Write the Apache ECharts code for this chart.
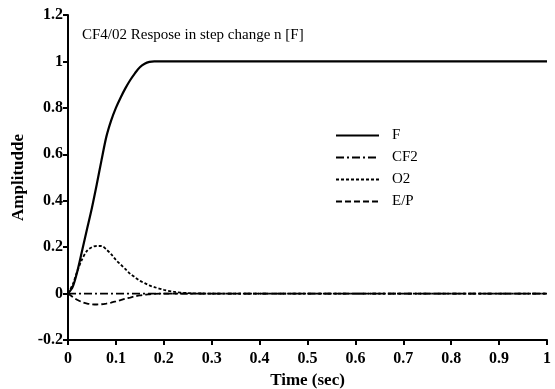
<!DOCTYPE html>
<html><head><meta charset="utf-8">
<script src="https://cdn.jsdelivr.net/npm/echarts@6/dist/echarts.min.js"></script>
<style>html,body{margin:0;padding:0;background:#fff}#c{width:555px;height:389px}</style>
</head><body><div id="c"></div>
<script>
var time = [0,0.01,0.02,0.03,0.04,0.05,0.06,0.07,0.08,0.09,0.10,0.11,0.12,0.13,0.14,0.15,0.16,0.17,0.18,0.20,0.22,0.25,0.30,0.50,1.0];
var F    = [0,0.03,0.10,0.19,0.28,0.37,0.47,0.575,0.675,0.745,0.80,0.845,0.885,0.92,0.95,0.975,0.99,0.998,1.0,1.0,1.0,1.0,1.0,1.0,1.0];
var CF2  = [0,0,0,0,0,0,0,0,0,0,0,0,0,0,0,0,0,0,0,0,0,0,0,0,0];
var O2   = [0,0.04,0.10,0.15,0.185,0.20,0.205,0.205,0.19,0.17,0.145,0.125,0.105,0.085,0.07,0.055,0.045,0.035,0.028,0.016,0.008,0.002,0,0,0];
var EP   = [0,-0.015,-0.028,-0.037,-0.043,-0.046,-0.047,-0.046,-0.043,-0.039,-0.034,-0.028,-0.022,-0.017,-0.012,-0.008,-0.005,-0.003,-0.001,0,0,0,0,0,0];
var xTicks = [0,0.1,0.2,0.3,0.4,0.5,0.6,0.7,0.8,0.9,1];
var yTicks = [-0.2,0,0.2,0.4,0.6,0.8,1,1.2];
function pairs(v){return time.map(function(t,i){return [t,v[i]];});}
var font = '"Liberation Serif","Times New Roman",serif';
var chart = echarts.init(document.getElementById('c'));
function axisCommon(){return {
  axisLine:{show:true,onZero:false,lineStyle:{color:'#000',width:2}},
  axisTick:{show:true,length:5,lineStyle:{color:'#000',width:2}},
  splitLine:{show:false},
  nameTextStyle:{color:'#000',fontFamily:font,fontWeight:'bold',fontSize:17}
};}
function mk(name,v,type,w){return {name:name,type:'line',data:pairs(v),symbol:'none',showSymbol:false,smooth:0.3,animation:false,
  itemStyle:{color:'#000'},lineStyle:{color:'#000',width:w,type:type}};}
chart.setOption({
  animation:false,
  title:{text:'CF4/02 Respose in step change n [F]',left:77,top:23,textStyle:{color:'#000',fontFamily:font,fontWeight:'normal',fontSize:15}},
  grid:{left:68,right:8,top:15,bottom:49,outerBoundsMode:'none',containLabel:false},
  legend:{orient:'vertical',left:330,top:123,itemWidth:43,itemHeight:12,itemGap:7,
    itemStyle:{opacity:0},
    textStyle:{color:'#000',fontFamily:font,fontSize:15,padding:[0,0,0,8]},
    data:['F','CF2','O2','E/P']},
  xAxis:Object.assign({type:'value',min:0,max:1,interval:0.1,name:'Time (sec)',nameLocation:'middle',nameGap:30},axisCommon(),
    {axisLabel:{color:'#000',fontFamily:font,fontWeight:'bold',fontSize:16,margin:11,formatter:function(v){return String(Math.round(v*10)/10);}}}),
  yAxis:Object.assign({type:'value',min:-0.2,max:1.2,interval:0.2,name:'Amplitudde',nameLocation:'middle',nameGap:40},axisCommon(),
    {axisLabel:{color:'#000',fontFamily:font,fontWeight:'bold',fontSize:16,margin:5,formatter:function(v){return String(Math.round(v*10)/10);}}}),
  series:[mk('F',F,'solid',2.2),mk('CF2',CF2,[8,3,2,3],1.8),mk('O2',O2,[3,2],1.8),mk('E/P',EP,[6,3],1.8)]
});
</script></body></html>
